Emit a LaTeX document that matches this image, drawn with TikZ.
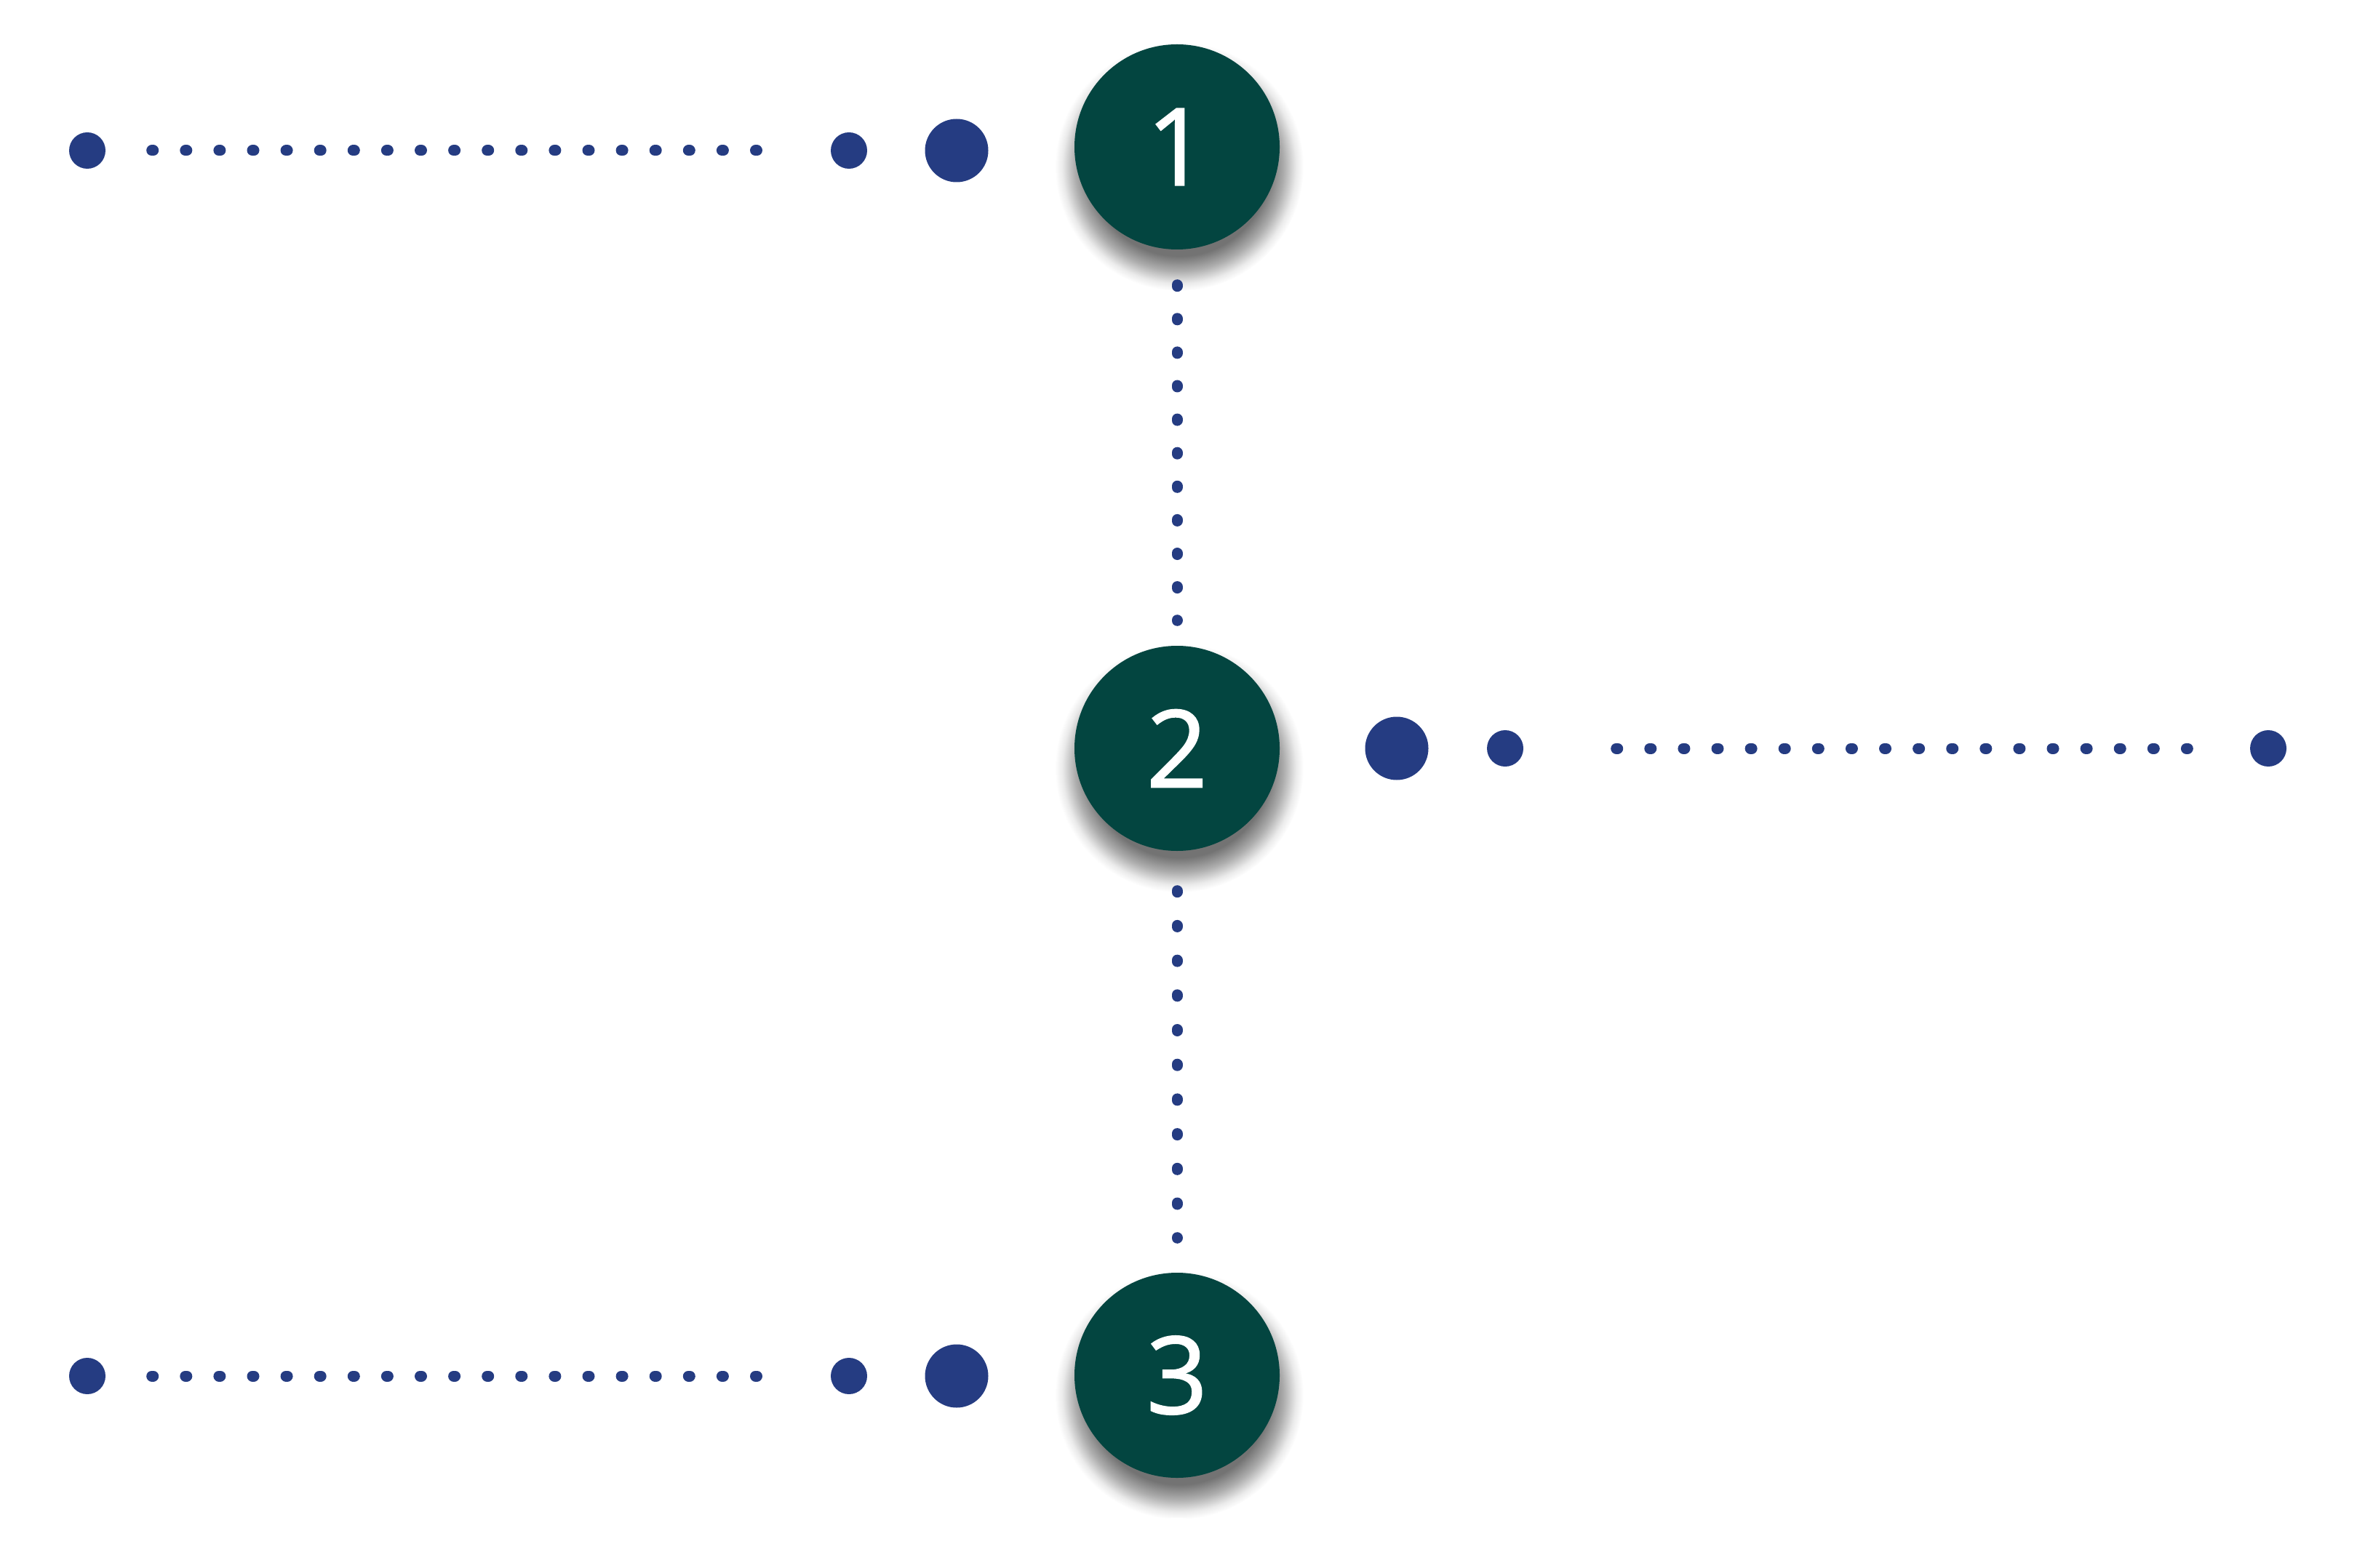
\documentclass[tikz,border=0pt]{standalone}
\usepackage{fontspec}
\setmainfont{Open Sans}
\newfontfamily\numfont{Open Sans}[FakeBold=1.2]
\usepackage{tikz}
\definecolor{stepgreen}{RGB}{3,69,64}
\definecolor{dotblue}{RGB}{37,60,130}
\pgfdeclareradialshading{stepshadow}{\pgfpoint{0bp}{0bp}}{color(0bp)=(black!55); color(18bp)=(black!55); color(21bp)=(black!32); color(23.5bp)=(black!8); color(25bp)=(white); color(50bp)=(white)}
\tikzstyle{stepcircle} = [circle, fill=stepgreen, text=white, minimum size=2.82cm, inner sep=0pt, font=\numfont\fontsize{42}{42}\selectfont]
\tikzstyle{bigdot} = [circle, fill=dotblue, minimum size=0.87cm, inner sep=0pt]
\tikzstyle{smalldot} = [circle, fill=dotblue, minimum size=0.5cm, inner sep=0pt]
\tikzstyle{dotline} = [draw=dotblue, line width=0.15cm, line cap=round, dash pattern=on 0.02cm off 0.441cm]

\begin{document}
\begin{tikzpicture}
    \useasboundingbox (0,0) rectangle (32.40,21.55);

    % Shadows under the step circles
    \foreach \y in {19.53,11.26,2.64}
        \shade[shading=stepshadow] (16.21,\y-0.27) circle (1.71);

    % Step circles
    \node (c1) [stepcircle] at (16.18,19.53) {1};
    \node (c2) [stepcircle] at (16.18,11.26) {2};
    \node (c3) [stepcircle] at (16.18,2.64) {3};

    % Row 1 (left)
    \node (a1) [smalldot] at (1.20,19.48) {};
    \node (b1) [smalldot] at (11.67,19.48) {};
    \node (d1) [bigdot] at (13.15,19.48) {};
    \draw[dotline, shorten <=0.63cm, shorten >=0.99cm] (a1) -- (b1);

    % Row 2 (right)
    \node (d2) [bigdot] at (19.20,11.26) {};
    \node (b2) [smalldot] at (20.69,11.26) {};
    \node (a2) [smalldot] at (31.18,11.26) {};
    \draw[dotline, shorten <=1.27cm, shorten >=0.85cm] (b2) -- (a2);

    % Row 3 (left)
    \node (a3) [smalldot] at (1.20,2.63) {};
    \node (b3) [smalldot] at (11.67,2.63) {};
    \node (d3) [bigdot] at (13.15,2.63) {};
    \draw[dotline, shorten <=0.63cm, shorten >=0.99cm] (a3) -- (b3);

    % Vertical links
    \draw[dotline, shorten <=0.48cm, shorten >=0.34cm] (c1) -- (c2);
    \draw[dotline, dash pattern=on 0.02cm off 0.457cm, shorten <=0.54cm, shorten >=0.47cm] (c2) -- (c3);

    % next circle, cut off by the page
    \node (c4) [circle, fill=white, minimum size=2.82cm] at (16.18,-0.73) {};
\end{tikzpicture}
\end{document}
